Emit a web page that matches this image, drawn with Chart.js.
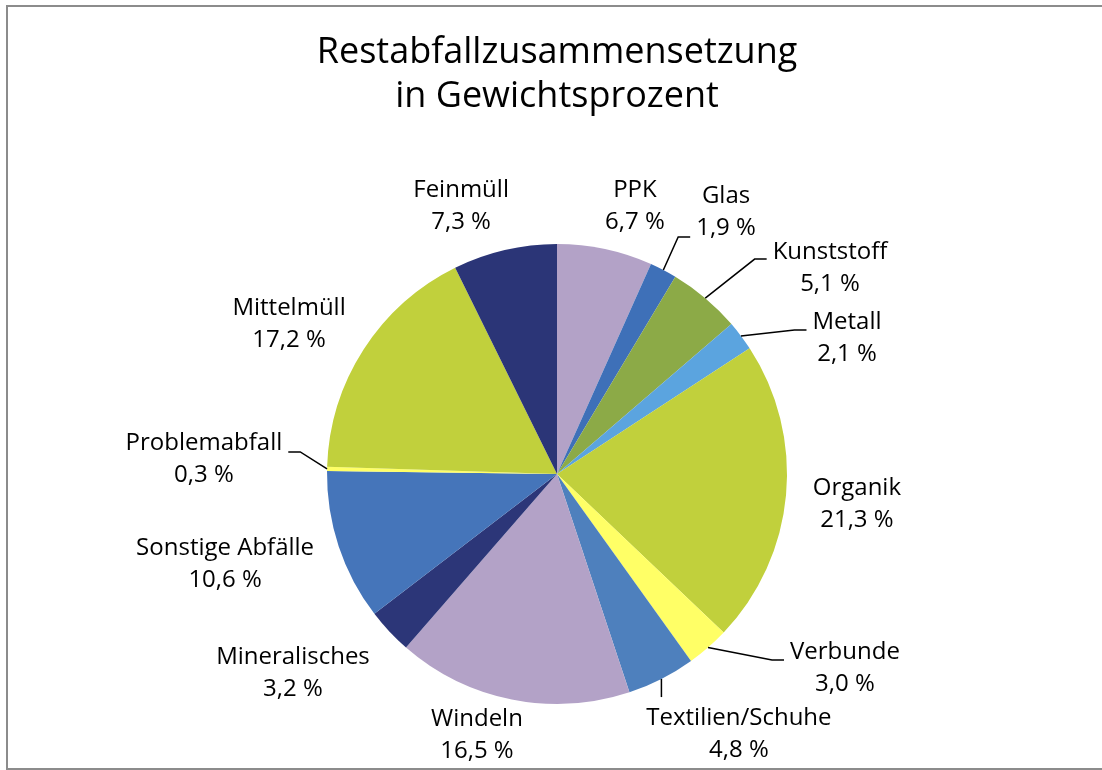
<!DOCTYPE html>
<html>
<head>
<meta charset="utf-8">
<script src="https://cdn.jsdelivr.net/npm/chart.js@4"></script>
<style>
  html, body { margin: 0; padding: 0; background: #fff; overflow: hidden; }
  #wrap { position: relative; width: 1102px; height: 770px; }
  #frame { position: absolute; left: 6px; top: 5px; width: 1200px; height: 765px; box-sizing: border-box; border: 2px solid #8c8c8c; pointer-events: none; }
  canvas { position: absolute; left: 0; top: 0; }
</style>
</head>
<body>
<div id="wrap">
  <canvas id="c" width="1102" height="770"></canvas>
  <div id="frame"></div>
</div>
<script>
// ---- data ----
const titleLines = ['Restabfallzusammensetzung', 'in Gewichtsprozent'];
const categories = ['PPK', 'Glas', 'Kunststoff', 'Metall', 'Organik', 'Verbunde', 'Textilien/Schuhe', 'Windeln', 'Mineralisches', 'Sonstige Abfälle', 'Problemabfall', 'Mittelmüll', 'Feinmüll'];
const values = [6.7, 1.9, 5.1, 2.1, 21.3, 3.0, 4.8, 16.5, 3.2, 10.6, 0.3, 17.2, 7.3];

// ---- styles / layout ----
const sliceColors = ['#B3A2C7', '#3E70B8', '#8CAA47', '#5BA4DF', '#C1D03C', '#FFFF66', '#4E80BD', '#B3A2C7', '#2C3678', '#4575BA', '#FFFF66', '#C1D03C', '#2B3577'];
// label anchor offsets from pie centre, in units of the pie radius
const labelPlacement = [
  [0.339, -1.174], [0.735, -1.148], [1.187, -0.904], [1.261, -0.596], [1.304, 0.122],
  [1.252, 0.835], [0.791, 1.122], [-0.348, 1.130], [-1.148, 0.857], [-1.443, 0.383],
  [-1.535, -0.070], [-1.165, -0.661], [-0.417, -1.170]
];
// leader lines: [side, vertical attach offset in px]
const leaderLines = { 1: ['left', 27], 2: ['left', -7], 3: ['left', -7], 5: ['left', -6], 6: ['top', -35], 10: ['right', -6] };

const FONT = "'Open Sans', 'DejaVu Sans', sans-serif";
const LABEL_SIZE = 24;
const LINE_GAP = 32;

function fmt(v) { return v.toFixed(1).replace('.', ',') + ' %'; }

const labelPlugin = {
  id: 'sliceLabels',
  afterDatasetsDraw(chart) {
    const ctx = chart.ctx;
    const meta = chart.getDatasetMeta(0);
    ctx.save();
    ctx.font = LABEL_SIZE + 'px ' + FONT;
    ctx.fillStyle = '#000';
    ctx.strokeStyle = '#000';
    ctx.lineWidth = 1.5;
    ctx.textAlign = 'center';
    ctx.textBaseline = 'alphabetic';
    const capHalf = LABEL_SIZE * 0.357;
    meta.data.forEach((arc, i) => {
      const cx = arc.x, cy = arc.y, r = arc.outerRadius;
      const lx = cx + labelPlacement[i][0] * r;
      const ly = cy + labelPlacement[i][1] * r;
      const l1 = categories[i], l2 = fmt(values[i]);
      ctx.fillText(l1, lx, ly - LINE_GAP / 2 + capHalf);
      ctx.fillText(l2, lx, ly + LINE_GAP / 2 + capHalf);
      const ld = leaderLines[i];
      if (ld) {
        const mid = (arc.startAngle + arc.endAngle) / 2;
        const px = cx + r * Math.cos(mid), py = cy + r * Math.sin(mid);
        const half = Math.max(ctx.measureText(l1).width, ctx.measureText(l2).width) / 2;
        ctx.beginPath();
        ctx.moveTo(px, py);
        if (ld[0] === 'left') {
          const ex = lx - half - 6, ey = ly + ld[1];
          ctx.lineTo(ex - 12, ey);
          ctx.lineTo(ex, ey);
        } else if (ld[0] === 'right') {
          const ex = lx + half + 6, ey = ly + ld[1];
          ctx.lineTo(ex + 12, ey);
          ctx.lineTo(ex, ey);
        } else {
          ctx.lineTo(px, ly + ld[1]);
        }
        ctx.stroke();
      }
    });
    ctx.restore();
  }
};

new Chart(document.getElementById('c'), {
  type: 'pie',
  data: {
    labels: categories,
    datasets: [{
      data: values,
      backgroundColor: sliceColors,
      borderWidth: 0,
      hoverOffset: 0
    }]
  },
  options: {
    responsive: false,
    devicePixelRatio: 1,
    animation: false,
    layout: { padding: { left: 100, right: 88, top: 0, bottom: 66 } },
    plugins: {
      legend: { display: false },
      tooltip: { enabled: false },
      title: {
        display: true,
        text: titleLines,
        color: '#000',
        font: { family: FONT, size: 36, weight: 'normal', lineHeight: '44px' },
        padding: { top: 31, bottom: 125 }
      }
    }
  },
  plugins: [labelPlugin]
});
</script>
</body>
</html>
